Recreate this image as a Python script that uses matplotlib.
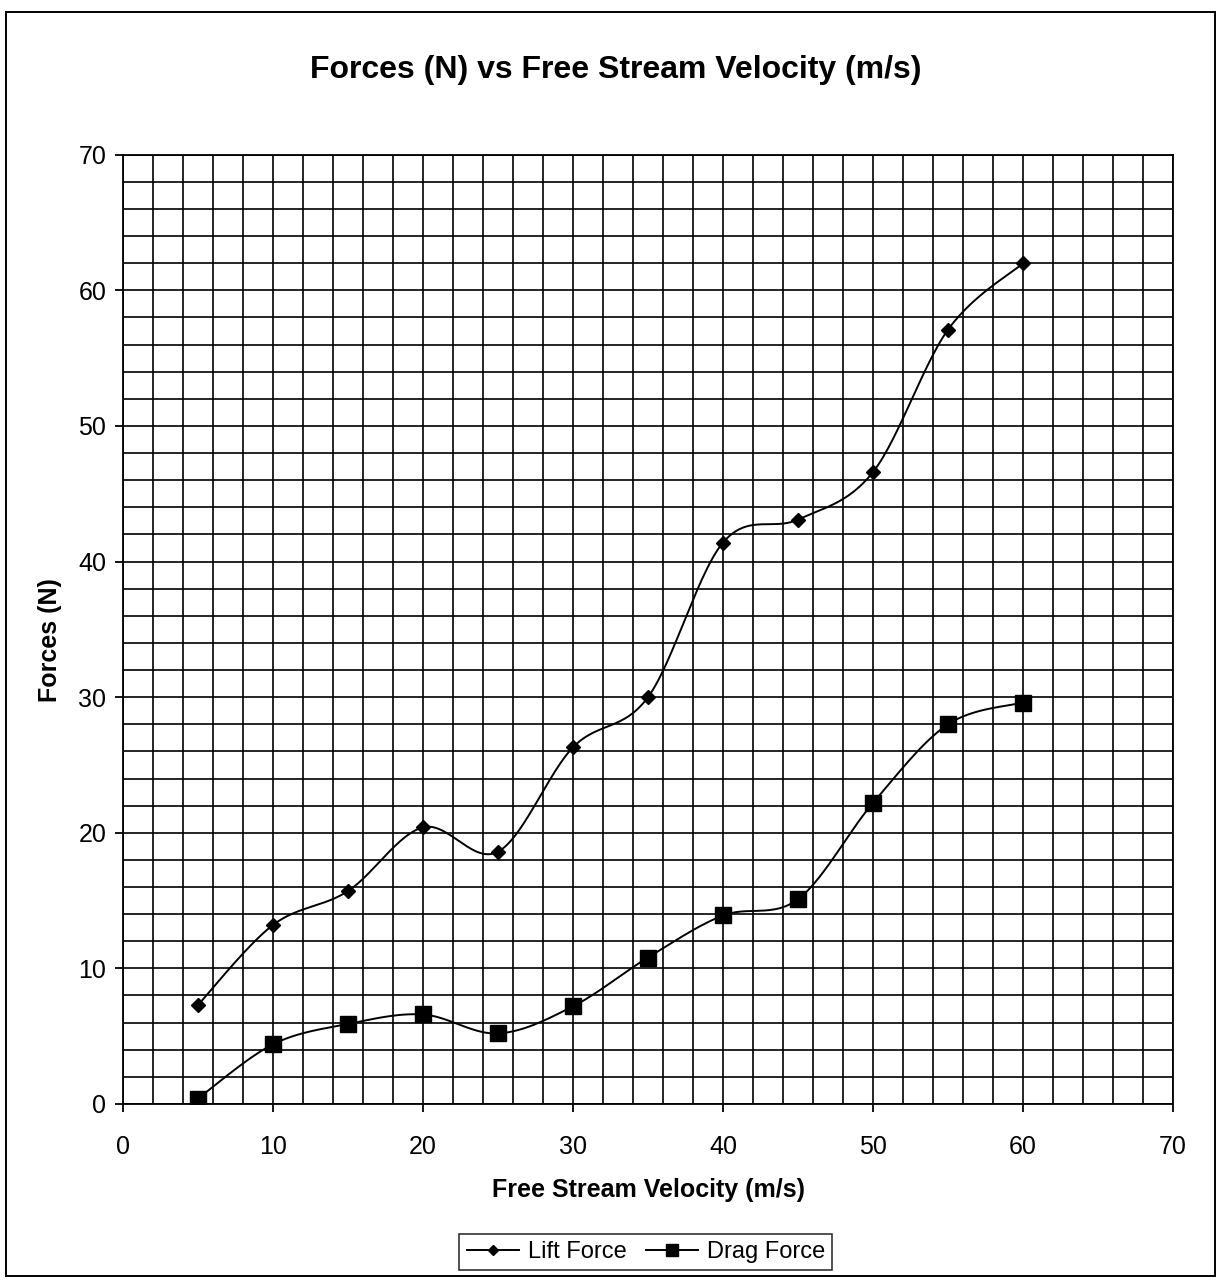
import numpy as np
import matplotlib.pyplot as plt
from matplotlib.patches import Rectangle
from matplotlib.ticker import MultipleLocator

plt.rcParams['font.family'] = ['Liberation Sans', 'DejaVu Sans']

# Measured forces at each free stream velocity
velocity = [5, 10, 15, 20, 25, 30, 35, 40, 45, 50, 55, 60]
lift_force = [7.3, 13.2, 15.7, 20.4, 18.6, 26.3, 30.0, 41.4, 43.1, 46.6, 57.1, 62.0]
drag_force = [0.4, 4.4, 5.9, 6.6, 5.2, 7.2, 10.8, 13.9, 15.1, 22.2, 28.0, 29.6]


def smooth_curve(x, y, steps=30):
    # Bezier segments through every point, Excel-style "smoothed line"
    x = np.asarray(x, float)
    y = np.asarray(y, float)
    n = len(x)
    xs, ys = [], []
    t = np.linspace(0, 1, steps)
    for i in range(n - 1):
        p0 = np.array([x[i], y[i]])
        p3 = np.array([x[i + 1], y[i + 1]])
        prev = np.array([x[max(i - 1, 0)], y[max(i - 1, 0)]])
        nxt = np.array([x[min(i + 2, n - 1)], y[min(i + 2, n - 1)]])
        p1 = p0 + (p3 - prev) / 6.0
        p2 = p3 - (nxt - p0) / 6.0
        b = ((1 - t) ** 3)[:, None] * p0 + (3 * (1 - t) ** 2 * t)[:, None] * p1 \
            + (3 * (1 - t) * t ** 2)[:, None] * p2 + (t ** 3)[:, None] * p3
        xs.extend(b[:, 0])
        ys.extend(b[:, 1])
    return xs, ys


fig = plt.figure(figsize=(12.21, 12.81), dpi=100)
ax = fig.add_axes([0.1007, 0.1382, 0.86, 0.741])

lx, ly = smooth_curve(velocity, lift_force)
dx, dy = smooth_curve(velocity, drag_force)
ax.plot(lx, ly, color='black', lw=1.4, zorder=3)
ax.plot(dx, dy, color='black', lw=1.4, zorder=3)
ax.plot(velocity, lift_force, ls='none', marker='D', ms=7, color='black', zorder=4)
ax.plot(velocity, drag_force, ls='none', marker='s', ms=12, color='black', zorder=4)

ax.set_xlim(0, 70)
ax.set_ylim(0, 70)
ax.xaxis.set_major_locator(MultipleLocator(10))
ax.yaxis.set_major_locator(MultipleLocator(10))
ax.xaxis.set_minor_locator(MultipleLocator(2))
ax.yaxis.set_minor_locator(MultipleLocator(2))
ax.grid(which='both', color='black', lw=1.2)
ax.set_axisbelow(True)
ax.tick_params(which='major', direction='out', length=6, width=1.3, labelsize=18)
ax.tick_params(axis='x', pad=16)
ax.tick_params(axis='y', pad=6)
ax.tick_params(which='minor', length=0)
for s in ax.spines.values():
    s.set_linewidth(1.3)

fig.text(0.504, 0.945, 'Forces (N) vs Free Stream Velocity (m/s)', fontsize=23,
         fontweight='bold', ha='center', va='center')
fig.text(0.531, 0.071, 'Free Stream Velocity (m/s)', fontsize=18,
         fontweight='bold', ha='center', va='center')
fig.text(0.041, 0.50, 'Forces (N)', fontsize=18, fontweight='bold',
         rotation=90, ha='center', va='center')

handles = [
    plt.Line2D([], [], color='black', lw=1.4, marker='D', ms=5),
    plt.Line2D([], [], color='black', lw=1.4, marker='s', ms=9),
]
fig.legend(handles, ['Lift Force', 'Drag Force'], loc='center', bbox_to_anchor=(0.529, 0.0225),
           ncol=2, fontsize=17, frameon=True, fancybox=False, edgecolor='black',
           handlelength=2.2, columnspacing=0.8, handletextpad=0.4, borderpad=0.3)
leg = fig.legends[0]
leg.get_frame().set_linewidth(1.2)

# chart area border
fig.patches.append(Rectangle((0.005, 0.004), 0.99, 0.9866, transform=fig.transFigure,
                             fill=False, edgecolor='black', lw=1.4))

fig.savefig('out.png', dpi=100)
